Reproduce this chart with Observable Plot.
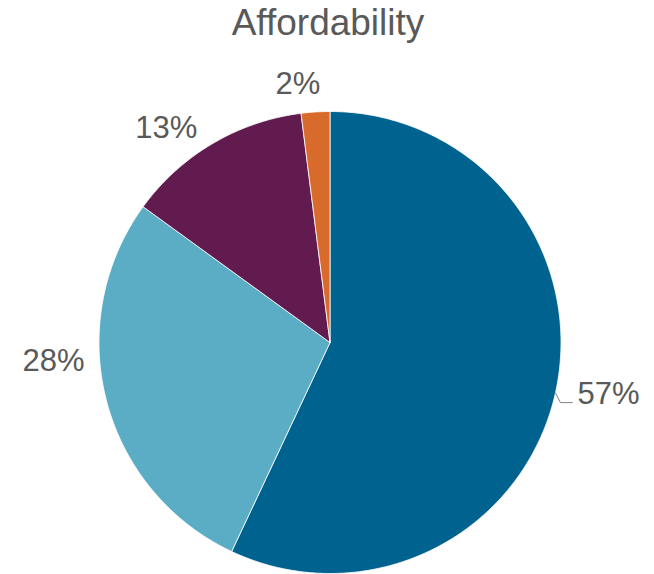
<!DOCTYPE html>
<html>
<head>
<meta charset="utf-8">
<script src="https://cdn.jsdelivr.net/npm/d3@7"></script>
<script src="https://cdn.jsdelivr.net/npm/@observablehq/plot@0.6"></script>
<style>
  html, body { margin: 0; padding: 0; background: #fff; }
  #title {
    width: 654px; height: 48px; box-sizing: border-box; padding-top: 2px; padding-left: 2px;
    font-family: "Liberation Sans", Arial, sans-serif; font-size: 37px;
    color: #595959; text-align: center; line-height: normal; white-space: nowrap;
  }
  #chart svg { display: block; }
</style>
</head>
<body>
<div id="title">Affordability</div>
<div id="chart"></div>
<script>
// Data
const categories = ["Category 1", "Category 2", "Category 3", "Category 4"];
const values = [57, 28, 13, 2];
const labels = ["57%", "28%", "13%", "2%"];
const colors = ["#00638F", "#5BACC5", "#621B4F", "#D86B2C"];
// label placement (angle clockwise from 12 o'clock in degrees, distance in pie radii)
const labelAngles = [100.4, 266.1, 322.7, 352.9];
const labelDists = [1.226, 1.2, 1.169, 1.126];

const arcs = d3.pie().sort(null).value(d => d)(values);

// polygon points per slice (unit circle, y up)
const polyPts = [];
arcs.forEach((a, i) => {
  const cat = categories[i];
  polyPts.push({cat, x: 0, y: 0});
  const n = Math.max(2, Math.ceil((a.endAngle - a.startAngle) / (Math.PI / 360)));
  for (let k = 0; k <= n; k++) {
    const t = a.startAngle + (a.endAngle - a.startAngle) * k / n;
    polyPts.push({cat, x: Math.sin(t), y: Math.cos(t)});
  }
  polyPts.push({cat, x: 0, y: 0});
});

const labelData = labels.map((l, i) => {
  const t = labelAngles[i] * Math.PI / 180;
  return {label: l, x: labelDists[i] * Math.sin(t), y: labelDists[i] * Math.cos(t)};
});

// leader line for the largest slice
const m0 = (arcs[0].startAngle + arcs[0].endAngle) / 2;
const L = labelData[0];
const leader = [
  {x: Math.sin(m0), y: Math.cos(m0)},
  {x: L.x - 0.208, y: L.y - 0.039},
  {x: L.x - 0.157, y: L.y - 0.039}
];

const chart = Plot.plot({
  width: 654,
  height: 526,
  margin: 0,
  x: {domain: [-1, 1], range: [98.5, 560.5], axis: null},
  y: {domain: [-1, 1], range: [525, 63], axis: null},
  color: {domain: categories, range: colors},
  style: {fontFamily: "'Liberation Sans', Arial, sans-serif", background: "#fff"},
  marks: [
    Plot.line(polyPts, {x: "x", y: "y", z: "cat", fill: "cat", stroke: "#ffffff", strokeWidth: 0.8, curve: "linear"}),
    Plot.line(leader, {x: "x", y: "y", stroke: "#808080", strokeWidth: 1}),
    Plot.text(labelData, {x: "x", y: "y", text: "label", fontSize: 31, fill: "#595959"})
  ]
});
document.getElementById("chart").appendChild(chart);
</script>
</body>
</html>
